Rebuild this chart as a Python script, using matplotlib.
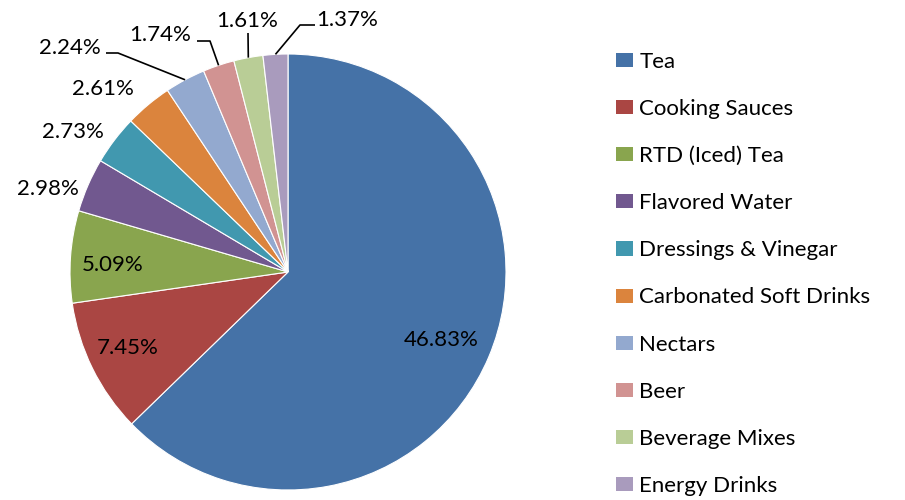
import matplotlib
matplotlib.use("Agg")
import matplotlib.pyplot as plt
from matplotlib.patches import Patch
import numpy as np

categories = ["Tea", "Cooking Sauces", "RTD (Iced) Tea", "Flavored Water",
              "Dressings & Vinegar", "Carbonated Soft Drinks", "Nectars", "Beer",
              "Beverage Mixes", "Energy Drinks"]
values = [46.83, 7.45, 5.09, 2.98, 2.73, 2.61, 2.24, 1.74, 1.61, 1.37]
labels = ["46.83%", "7.45%", "5.09%", "2.98%", "2.73%", "2.61%", "2.24%", "1.74%", "1.61%", "1.37%"]
colors = ["#4572A7", "#AA4643", "#89A54E", "#71588F", "#4198AF",
          "#DB843D", "#93A9CF", "#D19392", "#B9CD96", "#A99BBD"]

plt.rcParams['font.family'] = ['Lato', 'DejaVu Sans']

W, H = 905, 500
fig = plt.figure(figsize=(W / 100, H / 100), dpi=100)
ax = fig.add_axes([0, 0, 1, 1])

cx, cy, R = 288, H - 272, 218
wedges, _ = ax.pie(values, colors=colors, startangle=90, counterclock=False,
                   center=(cx, cy), radius=R, normalize=True,
                   wedgeprops=dict(edgecolor='white', linewidth=0.8))
ax.set_xlim(0, W)
ax.set_ylim(0, H)
ax.set_aspect('equal')
ax.axis('off')

# label layout (pixel positions from top-left), and leader line bends
label_pos = [(441, 340), (128, 348), (113, 265), (48, 189), (73, 132),
             (103, 89), (70, 48), (160, 35), (247, 21), (347, 20)]
leaders = {6: [(106, 53), (118, 53)], 7: [(197, 41), (210, 41)],
           8: [(248, 33)], 9: [(315, 25), (300, 25)]}

fs = 16
for i, w in enumerate(wedges):
    lx, ly = label_pos[i]
    ax.text(lx, H - ly, labels[i], ha='center', va='center', fontsize=fs, color='black')
    if i in leaders:
        mid = np.deg2rad((w.theta1 + w.theta2) / 2)
        ex, ey = cx + R * np.cos(mid), cy + R * np.sin(mid)
        pts = [(p[0], H - p[1]) for p in leaders[i]] + [(ex, ey)]
        xs, ys = zip(*pts)
        ax.plot(xs, ys, color='black', linewidth=1.2, solid_capstyle='butt')

handles = [Patch(facecolor=c, edgecolor='none') for c in colors]
leg = fig.legend(handles, categories, loc='upper left', bbox_to_anchor=(607 / W, 1 - 43 / H),
                 frameon=False, fontsize=fs, handlelength=0.75, handleheight=0.6,
                 handletextpad=0.3, labelspacing=1.22, borderaxespad=0)

fig.savefig("out.png", dpi=100)
